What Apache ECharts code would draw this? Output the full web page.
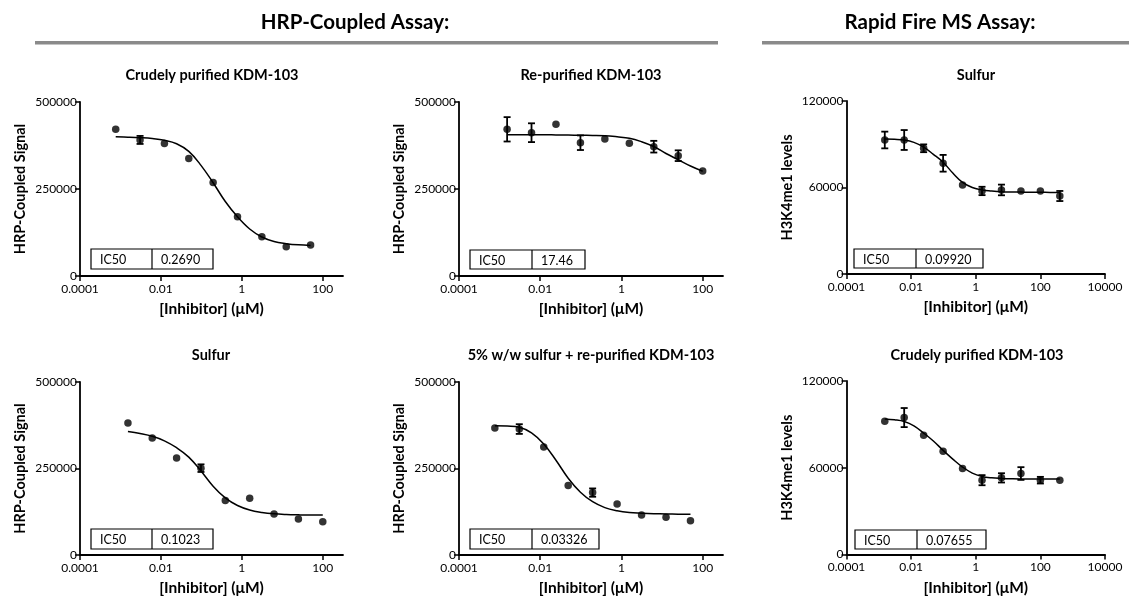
<!DOCTYPE html>
<html><head><meta charset="utf-8">
<script src="https://cdn.jsdelivr.net/npm/echarts@6/dist/echarts.min.js"></script>
<style>html,body{margin:0;padding:0;background:#fff}#c{width:1129px;height:601px}</style>
</head><body><div id="c"></div>
<script>
// ---- tick labels (x axis exponents of 10) ----
const xTickExps = [-4, -2, 0, 2, 4];
const xTickLabels = ['0.0001', '0.01', '1', '100', '10000'];

// ---- concentrations (µM) ----
const concA = [0.000763, 0.00305, 0.0122, 0.0488, 0.195, 0.781, 3.125, 12.5, 50];
const concB = [0.00153, 0.0061, 0.0244, 0.0977, 0.39, 1.5625, 6.25, 25, 100];
const concC = [0.00153, 0.0061, 0.0244, 0.0977, 0.39, 1.5625, 6.25, 25, 100, 400];
const fitA = [0.000763, 0.00153, 0.00305, 0.0061, 0.0122, 0.0244, 0.0488, 0.0977, 0.195, 0.39, 0.781, 1.5625, 3.125, 6.25, 12.5, 25, 50];
const fitB = [0.00153, 0.00305, 0.0061, 0.0122, 0.0244, 0.0488, 0.0977, 0.195, 0.39, 0.781, 1.5625, 3.125, 6.25, 12.5, 25, 50, 100];
const fitC = [0.00153, 0.00305, 0.0061, 0.0122, 0.0244, 0.0488, 0.0977, 0.195, 0.39, 0.781, 1.5625, 3.125, 6.25, 12.5, 25, 50, 100, 200, 400];

// ---- panel 1: HRP, crudely purified KDM-103 ----
const p1Mean = [422000, 391000, 381000, 338000, 269000, 170500, 113000, 84300, 89000];
const p1Err  = [0, 11500, 0, 0, 0, 0, 0, 0, 0];
const p1FitY = [400000, 399000, 397500, 395000, 390000, 380000, 358000, 318000, 268000, 214000, 170000, 135000, 112000, 99000, 93000, 89500, 88000];

// ---- panel 2: HRP, re-purified KDM-103 ----
const p2Mean = [421500, 411800, 435900, 383000, 393700, 381300, 371600, 345700, 301700];
const p2Err  = [35000, 27000, 0, 21000, 0, 0, 16800, 15400, 0];
const p2FitY = [406000, 406000, 406000, 406000, 405500, 405000, 404500, 404000, 403000, 400000, 396000, 386000, 372000, 352000, 334000, 316000, 301000];

// ---- panel 3: Rapid Fire MS, sulfur ----
const p3Mean = [92950, 92950, 87200, 76800, 61700, 57600, 58300, 57600, 57600, 54100];
const p3Err  = [5800, 6900, 2700, 5800, 0, 2900, 3700, 0, 0, 3500];
const p3FitY = [93600, 93400, 92900, 91300, 88000, 83000, 77500, 70000, 63500, 60000, 58300, 57600, 57100, 56900, 56800, 56700, 56700, 56600, 56600];

// ---- panel 4: HRP, sulfur ----
const p4Mean = [381300, 337800, 280000, 251000, 157200, 164100, 118700, 104200, 96400];
const p4Err  = [0, 0, 0, 11000, 0, 0, 0, 0, 0];
const p4FitY = [357000, 351000, 343000, 330000, 310000, 283000, 243000, 199000, 165000, 143000, 130000, 123000, 119000, 117000, 116000, 115500, 115500];

// ---- panel 5: HRP, 5% w/w sulfur + re-purified KDM-103 ----
const p5Mean = [366800, 364000, 311800, 200600, 180400, 147600, 115800, 109100, 99300];
const p5Err  = [0, 14000, 0, 0, 12000, 0, 0, 0, 0];
const p5FitY = [373500, 372500, 369000, 353000, 321000, 274000, 222000, 181500, 154000, 137000, 128000, 123000, 121000, 119500, 118500, 118000, 117800];

// ---- panel 6: Rapid Fire MS, crudely purified KDM-103 ----
const p6Mean = [92150, 94700, 82500, 71400, 59400, 51400, 53000, 56000, 51400, 51400];
const p6Err  = [0, 6600, 0, 0, 0, 3500, 3200, 4400, 2300, 0];
const p6FitY = [93800, 93200, 92000, 89000, 84000, 78500, 72000, 66000, 60500, 56300, 54000, 53000, 52600, 52400, 52300, 52300, 52300, 52300, 52300];

const panelTitles = ['Crudely purified KDM-103', 'Re-purified KDM-103', 'Sulfur', 'Sulfur', '5% w/w sulfur + re-purified KDM-103', 'Crudely purified KDM-103'];
const ic50Labels = ['0.2690', '17.46', '0.09920', '0.1023', '0.03326', '0.07655'];
const headers = ['HRP-Coupled Assay:', 'Rapid Fire MS Assay:'];

// ---- layout ----
const FONT = 'Lato';
const panels = [
  {grid: {left: 80, top: 102, width: 263, height: 174}, xMax: 2.5, yMax: 500000, yInt: 250000, yName: 'HRP-Coupled Signal', conc: concA, mean: p1Mean, err: p1Err, fx: fitA, fy: p1FitY, tx: 212, ty: 75, box: [91, 249, 122, 20, 61]},
  {grid: {left: 459, top: 102, width: 264, height: 174}, xMax: 2.5, yMax: 500000, yInt: 250000, yName: 'HRP-Coupled Signal', conc: concB, mean: p2Mean, err: p2Err, fx: fitB, fy: p2FitY, tx: 591, ty: 75, box: [470, 250, 115, 19, 62]},
  {grid: {left: 846.5, top: 101, width: 258.5, height: 173}, xMax: 4, yMax: 120000, yInt: 60000, yName: 'H3K4me1 levels', conc: concC, mean: p3Mean, err: p3Err, fx: fitC, fy: p3FitY, tx: 976, ty: 75, box: [854, 249, 129, 19, 62]},
  {grid: {left: 80, top: 382, width: 263, height: 173}, xMax: 2.5, yMax: 500000, yInt: 250000, yName: 'HRP-Coupled Signal', conc: concB, mean: p4Mean, err: p4Err, fx: fitB, fy: p4FitY, tx: 211, ty: 355, box: [91, 529, 122, 20, 61]},
  {grid: {left: 459, top: 382, width: 264, height: 173}, xMax: 2.5, yMax: 500000, yInt: 250000, yName: 'HRP-Coupled Signal', conc: concA, mean: p5Mean, err: p5Err, fx: fitA, fy: p5FitY, tx: 591, ty: 355, box: [470, 529, 129, 20, 62]},
  {grid: {left: 846.5, top: 381, width: 258.5, height: 173.5}, xMax: 4, yMax: 120000, yInt: 60000, yName: 'H3K4me1 levels', conc: concC, mean: p6Mean, err: p6Err, fx: fitC, fy: p6FitY, tx: 977, ty: 355, box: [855, 530, 131, 19, 62]}
];

function renderErr(params, api) {
  const x = api.value(0), lo = api.value(1), hi = api.value(2);
  const a = api.coord([x, lo]), b = api.coord([x, hi]);
  const hw = 3.5, st = {stroke: '#000', lineWidth: 1.8};
  return {type: 'group', children: [
    {type: 'line', shape: {x1: a[0], y1: a[1], x2: b[0], y2: b[1]}, style: st},
    {type: 'line', shape: {x1: a[0] - hw, y1: a[1], x2: a[0] + hw, y2: a[1]}, style: st},
    {type: 'line', shape: {x1: b[0] - hw, y1: b[1], x2: b[0] + hw, y2: b[1]}, style: st}
  ]};
}

const grids = [], xAxes = [], yAxes = [], series = [], graphics = [];
panels.forEach((p, i) => {
  grids.push(Object.assign({containLabel: false}, p.grid));
  const exps = xTickExps.filter(e => e <= p.xMax);
  xAxes.push({
    gridIndex: i, type: 'value', min: -4, max: p.xMax, interval: 2,
    axisLine: {show: true, onZero: false, lineStyle: {color: '#000', width: 1.8}},
    axisTick: {show: true, length: 5, customValues: exps, lineStyle: {color: '#000', width: 1.5}},
    axisLabel: {customValues: exps, formatter: v => xTickLabels[xTickExps.indexOf(Math.round(v))], color: '#000', fontSize: 12, fontFamily: FONT, margin: 7},
    splitLine: {show: false},
    name: '[Inhibitor] (μM)', nameLocation: 'middle', nameGap: 25,
    nameTextStyle: {color: '#000', fontSize: 15.5, fontWeight: 'bold', fontFamily: FONT}
  });
  yAxes.push({
    gridIndex: i, type: 'value', min: 0, max: p.yMax, interval: p.yInt,
    axisLine: {show: true, onZero: false, lineStyle: {color: '#000', width: 1.8}},
    axisTick: {show: true, length: 5, lineStyle: {color: '#000', width: 1.5}},
    axisLabel: {formatter: v => String(v), color: '#000', fontSize: 12, fontFamily: FONT, margin: 3},
    splitLine: {show: false},
    name: p.yName, nameLocation: 'middle', nameGap: 52, nameRotate: 90,
    nameTextStyle: {color: '#000', fontSize: 14.5, fontWeight: 'bold', fontFamily: FONT}
  });
  series.push({
    type: 'line', xAxisIndex: i, yAxisIndex: i, showSymbol: false, smooth: 0.4,
    lineStyle: {color: '#000', width: 1.5}, z: 2,
    data: p.fx.map((c, j) => [Math.log10(c), p.fy[j]])
  });
  series.push({
    type: 'custom', xAxisIndex: i, yAxisIndex: i, renderItem: renderErr, z: 3,
    encode: {x: 0, y: [1, 2]},
    data: p.conc.map((c, j) => [Math.log10(c), p.mean[j] - p.err[j], p.mean[j] + p.err[j]]).filter((d, j) => p.err[j] > 0)
  });
  series.push({
    type: 'scatter', xAxisIndex: i, yAxisIndex: i, symbol: 'circle', symbolSize: 7.5, z: 4,
    itemStyle: {color: '#000'},
    data: p.conc.map((c, j) => [Math.log10(c), p.mean[j]])
  });
  // panel title
  graphics.push({type: 'text', x: p.tx, y: p.ty, style: {text: panelTitles[i], align: 'center', verticalAlign: 'middle', font: 'bold 14.5px ' + FONT, fill: '#000'}});
  // IC50 box
  const [bx, by, bw, bh, bd] = p.box;
  graphics.push({type: 'rect', shape: {x: bx, y: by, width: bw, height: bh}, style: {fill: '#fff', stroke: '#000', lineWidth: 1.2}, z: 5});
  graphics.push({type: 'line', shape: {x1: bx + bd, y1: by, x2: bx + bd, y2: by + bh}, style: {stroke: '#000', lineWidth: 1.2}, z: 6});
  graphics.push({type: 'text', x: bx + 9, y: by + bh / 2 + 1, style: {text: 'IC50', align: 'left', verticalAlign: 'middle', font: '12.5px ' + FONT, fill: '#000'}, z: 6});
  graphics.push({type: 'text', x: bx + bd + 9, y: by + bh / 2 + 1, style: {text: ic50Labels[i], align: 'left', verticalAlign: 'middle', font: '12.5px ' + FONT, fill: '#000'}, z: 6});
});

// section headers and rules
graphics.push({type: 'text', x: 355, y: 22, style: {text: headers[0], align: 'center', verticalAlign: 'middle', font: 'bold 20.5px ' + FONT, fill: '#000'}});
graphics.push({type: 'text', x: 940, y: 22, style: {text: headers[1], align: 'center', verticalAlign: 'middle', font: 'bold 20.5px ' + FONT, fill: '#000'}});
graphics.push({type: 'rect', shape: {x: 35, y: 41, width: 683, height: 3.5}, style: {fill: '#8a8a8a'}});
graphics.push({type: 'rect', shape: {x: 762, y: 41, width: 367, height: 3.5}, style: {fill: '#8a8a8a'}});

const chart = echarts.init(document.getElementById('c'), null, {renderer: 'canvas'});
chart.setOption({
  animation: false,
  backgroundColor: '#fff',
  grid: grids, xAxis: xAxes, yAxis: yAxes, series: series, graphic: graphics
});
</script></body></html>
